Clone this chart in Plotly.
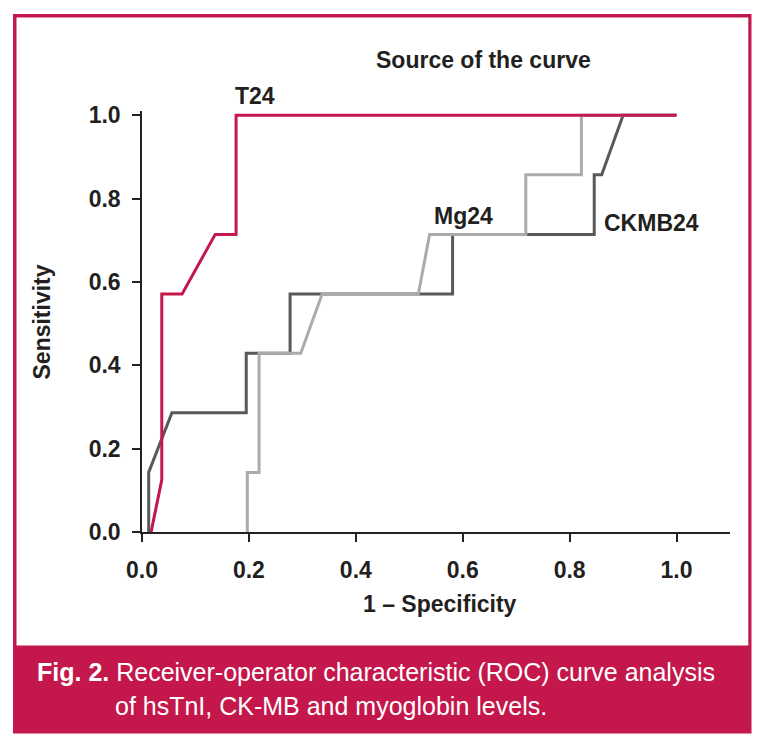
import plotly.graph_objects as go

# ---- data ----
t24_x = [0.017, 0.037, 0.037, 0.075, 0.137, 0.176, 0.176, 1.0]
t24_y = [0.0, 0.125, 0.571, 0.571, 0.714, 0.714, 1.0, 1.0]

ckmb24_x = [0.0125, 0.0125, 0.056, 0.195, 0.195, 0.277, 0.277, 0.581, 0.581, 0.846, 0.846, 0.860, 0.900, 1.0]
ckmb24_y = [0.0, 0.143, 0.286, 0.286, 0.429, 0.429, 0.571, 0.571, 0.714, 0.714, 0.857, 0.857, 1.0, 1.0]

mg24_x = [0.197, 0.197, 0.219, 0.219, 0.297, 0.337, 0.517, 0.538, 0.718, 0.718, 0.822, 0.822, 1.0]
mg24_y = [0.0, 0.143, 0.143, 0.429, 0.429, 0.571, 0.571, 0.714, 0.714, 0.857, 0.857, 1.0, 1.0]

tick_vals = [0.0, 0.2, 0.4, 0.6, 0.8, 1.0]

CRIMSON = "#C4174B"
DARK = "#58595B"
LIGHT = "#A9ABAE"
TEXT = "#231F20"
FONT = "Liberation Sans, Arial, Helvetica, sans-serif"

W, H = 763, 747
L, R, T, B = 142, 33, 111, 215
PW, PH = W - L - R, H - T - B


def px(x):
    return (x - L) / PW


def py(y):
    return (H - B - y) / PH


fig = go.Figure()
fig.add_trace(go.Scatter(x=ckmb24_x, y=ckmb24_y, mode="lines",
                         line=dict(color=DARK, width=3), name="CKMB24"))
fig.add_trace(go.Scatter(x=mg24_x, y=mg24_y, mode="lines",
                         line=dict(color=LIGHT, width=3), name="Mg24"))
fig.add_trace(go.Scatter(x=t24_x, y=t24_y, mode="lines",
                         line=dict(color=CRIMSON, width=3), name="T24"))

shapes = [
    # outer crimson frame + caption band
    dict(type="rect", xref="paper", yref="paper", layer="below",
         x0=px(13), x1=px(751.5), y0=py(733.5), y1=py(14),
         fillcolor=CRIMSON, line=dict(width=0)),
    dict(type="rect", xref="paper", yref="paper", layer="below",
         x0=px(16.5), x1=px(748.3), y0=py(645.5), y1=py(17.5),
         fillcolor="white", line=dict(width=0)),
]

chart_font = dict(family=FONT, size=23, color=TEXT, weight="bold")

annotations = [
    dict(text="Source of the curve", xref="paper", yref="paper",
         x=px(483), y=py(60), xanchor="center", yanchor="middle",
         showarrow=False, font=chart_font),
    dict(text="T24", xref="paper", yref="paper",
         x=px(255), y=py(96), xanchor="center", yanchor="middle",
         showarrow=False, font=chart_font),
    dict(text="Mg24", xref="paper", yref="paper",
         x=px(463), y=py(216), xanchor="center", yanchor="middle",
         showarrow=False, font=chart_font),
    dict(text="CKMB24", xref="paper", yref="paper",
         x=px(651), y=py(223), xanchor="center", yanchor="middle",
         showarrow=False, font=chart_font),
    dict(text="Sensitivity", xref="paper", yref="paper",
         x=px(41.5), y=py(322), xanchor="center", yanchor="middle",
         textangle=-90, showarrow=False, font=chart_font),
    dict(text="1 \u2013 Specificity", xref="paper", yref="paper",
         x=px(440), y=py(604), xanchor="center", yanchor="middle",
         showarrow=False, font=chart_font),
    dict(text="<b>Fig. 2.</b> Receiver-operator characteristic (ROC) curve analysis",
         xref="paper", yref="paper", x=px(35), y=py(672),
         xanchor="left", yanchor="middle", showarrow=False,
         font=dict(family=FONT, size=25, color="white")),
    dict(text="of hsTnI, CK-MB and myoglobin levels.",
         xref="paper", yref="paper", x=px(113), y=py(706),
         xanchor="left", yanchor="middle", showarrow=False,
         font=dict(family=FONT, size=25, color="white")),
]

axis_common = dict(
    showgrid=False, zeroline=False, showline=True, linecolor="#222222",
    linewidth=1.5, ticks="outside", ticklen=8, tickwidth=1.5,
    tickcolor="#222222", tickvals=tick_vals, tickformat=".1f",
    tickfont=dict(family=FONT, size=23, color=TEXT, weight="bold"),
)

fig.update_layout(
    width=W, height=H,
    margin=dict(l=L, r=R, t=T, b=B),
    paper_bgcolor="white", plot_bgcolor="rgba(0,0,0,0)",
    showlegend=False,
    shapes=shapes, annotations=annotations,
    xaxis=dict(range=[0, 1.1], ticklabelstandoff=9, **axis_common),
    yaxis=dict(range=[0, 1.01], ticklabelstandoff=7, **axis_common),
)

fig.write_html("out.html",
               config={"displayModeBar": False},
               post_script="document.body.style.margin='0';document.body.style.overflow='hidden';")
